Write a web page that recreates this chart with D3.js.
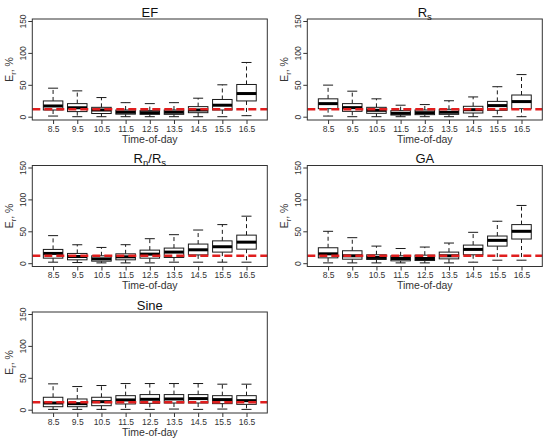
<!DOCTYPE html>
<html><head><meta charset="utf-8">
<script src="https://cdn.jsdelivr.net/npm/d3@7"></script>
<style>body{margin:0;background:#fff}svg{display:block}text{font-family:"Liberation Sans",Arial,sans-serif}</style>
</head><body>
<svg id="c" width="550" height="445"></svg>
<script>
// categories (time of day)
const times = ["8.5","9.5","10.5","11.5","12.5","13.5","14.5","15.5","16.5"];
const yTicks = [0, 50, 100, 150];
const refLine = 11.7;
// five-number summaries per hour: [lower whisker, Q1, median, Q3, upper whisker]
const EF   = [[1,10.5,16.8,24.7,44.7],[0,8,14,20.5,40.5],[0,5,10.5,14.7,30],[0,4,7,10.5,22],[0,3.7,6.3,9.5,20.5],[0,3.7,7,10.5,22],[0,6.3,10.5,15.8,29],[0,10.5,18,27,50],[1.6,24.7,36.3,50.5,85]];
const RS   = [[1,12.6,20.5,28,49.5],[0,8.4,14.2,20.5,40],[0,5.3,10,14.7,28],[0,2.6,5.3,9.5,18],[0,3.2,6.3,10.5,19],[0,3.7,7,11.6,25],[0,5.8,11,16.3,31],[0,10,17.4,24,47],[0,12.6,23.7,34,66]];
const RNRS = [[1.6,7.9,15.3,21.6,43.2],[1,5.3,10.5,15.3,28.9],[0.5,3.2,6.8,11.6,24.7],[0.5,5.3,10,14.7,29],[0.5,7.9,14.2,20.5,38.4],[1.6,9,17.4,23.7,44.7],[1.6,13,21,30,52],[1.6,17.4,25.8,35,60.5],[1.6,22,33,44,73.7]];
const GA   = [[0.5,8.4,14.7,24.2,50],[0.5,6.3,11.6,19.5,40],[0.5,5.8,9,13.2,26.8],[0.5,3.7,7.4,11.6,23],[0.5,4.2,7.4,12.6,25.3],[0.5,6.8,11.6,17.4,31.6],[1.6,13.2,21.6,28.4,48.4],[4.7,26.8,35.8,42.6,65.8],[4.7,37.9,50,60.5,90.5]];
const SINE = [[0.5,4.7,10.5,19.5,40.5],[0.5,4.7,9.5,16.8,36.3],[0.5,6.3,12.6,19.5,37.9],[0.5,9,15.3,22,41],[0.5,10,16.3,23.7,41],[1,10.5,16.8,23.7,41],[0.5,10.5,17.4,23.7,41],[1,9.5,15.8,22,40],[0.5,8.4,14.2,22,40]];

const panels = [
  {title:[["EF",0]], data:EF, col:0, row:0},
  {title:[["R",0],["s",1]], data:RS, col:1, row:0},
  {title:[["R",0],["n",1],["/R",0],["s",1]], data:RNRS, col:0, row:1},
  {title:[["GA",0]], data:GA, col:1, row:1},
  {title:[["Sine",0]], data:SINE, col:0, row:2}
];

const svg = d3.select("#c");
const L = 32.3, R = 267.3, T = 19, B = 120;
const boxW = 19.5, stapleW = 10;
const ink = "#1a1a1a", txt = "#333";

panels.forEach(p => {
  const g = svg.append("g").attr("transform", `translate(${p.col*275},${p.row*146.5})`);
  const x = d3.scaleLinear().domain([0.14, 9.86]).range([L, R]);
  const y = d3.scaleLinear().domain([0, 150]).range([116.7, 21]);

  // boxes
  p.data.forEach((d, i) => {
    const cx = x(i + 1);
    const [lo, q1, md, q3, hi] = d;
    const bg = g.append("g");
    bg.append("line").attr("x1", cx).attr("x2", cx).attr("y1", y(q3)).attr("y2", y(hi))
      .attr("stroke", ink).attr("stroke-width", 1).attr("stroke-dasharray", "4,3");
    bg.append("line").attr("x1", cx).attr("x2", cx).attr("y1", y(q1)).attr("y2", y(lo))
      .attr("stroke", ink).attr("stroke-width", 1).attr("stroke-dasharray", "4,3");
    [hi, lo].forEach(v => bg.append("line").attr("x1", cx - stapleW/2).attr("x2", cx + stapleW/2)
      .attr("y1", y(v)).attr("y2", y(v)).attr("stroke", ink).attr("stroke-width", 1));
    bg.append("rect").attr("x", cx - boxW/2).attr("y", y(q3)).attr("width", boxW)
      .attr("height", y(q1) - y(q3)).attr("fill", "#fff").attr("stroke", ink).attr("stroke-width", 1);
    bg.append("line").attr("x1", cx - boxW/2).attr("x2", cx + boxW/2).attr("y1", y(md)).attr("y2", y(md))
      .attr("stroke", "#000").attr("stroke-width", 3);
  });

  // reference line
  g.append("line").attr("x1", L).attr("x2", R).attr("y1", y(refLine)).attr("y2", y(refLine))
    .attr("stroke", "#e01e1e").attr("stroke-width", 2.5).attr("stroke-dasharray", "8,4");

  // frame
  g.append("rect").attr("x", L).attr("y", T).attr("width", R - L).attr("height", B - T)
    .attr("fill", "none").attr("stroke", "#333").attr("stroke-width", 1);

  // y axis
  const ya = g.append("g").attr("transform", `translate(${L},0)`)
    .call(d3.axisLeft(y).tickValues(yTicks).tickSize(4).tickPadding(3));
  ya.select(".domain").remove();
  ya.selectAll("line").attr("stroke", "#333");
  ya.selectAll(".tick text").attr("font-size", 8.5).attr("fill", txt)
    .attr("transform", "rotate(-90)").attr("x", 0).attr("y", -6.5).attr("dy", 0)
    .attr("text-anchor", "middle");

  // x axis
  const xa = g.append("g").attr("transform", `translate(0,${B})`)
    .call(d3.axisBottom(x).tickValues(d3.range(1, 10)).tickFormat(i => times[i-1]).tickSize(4).tickPadding(3));
  xa.select(".domain").remove();
  xa.selectAll("line").attr("stroke", "#333");
  xa.selectAll(".tick text").attr("font-size", 8.5).attr("fill", txt).attr("y", 11.6).attr("dy", 0);

  // axis titles
  g.append("text").attr("x", (L + R) / 2).attr("y", 142.8).attr("text-anchor", "middle")
    .attr("font-size", 10.5).attr("fill", txt).text("Time-of-day");
  const yl = g.append("text").attr("transform", `translate(13.3,${(T + B) / 2}) rotate(-90)`)
    .attr("text-anchor", "middle").attr("font-size", 10.5).attr("fill", txt);
  yl.append("tspan").text("E");
  yl.append("tspan").attr("font-size", 7.5).attr("dy", 2.5).text("r");
  yl.append("tspan").attr("dy", -2.5).text(", %");

  // title
  const tt = g.append("text").attr("x", (L + R) / 2).attr("y", 16.7).attr("text-anchor", "middle")
    .attr("font-size", 13).attr("fill", "#111");
  let sub = false;
  p.title.forEach(([s, isSub]) => {
    const ts = tt.append("tspan").text(s);
    if (isSub && !sub) { ts.attr("font-size", 9.5).attr("dy", 3); sub = true; }
    else if (!isSub && sub) { ts.attr("dy", -3); sub = false; }
    else if (isSub) ts.attr("font-size", 9.5);
  });
});
</script>
</body></html>
